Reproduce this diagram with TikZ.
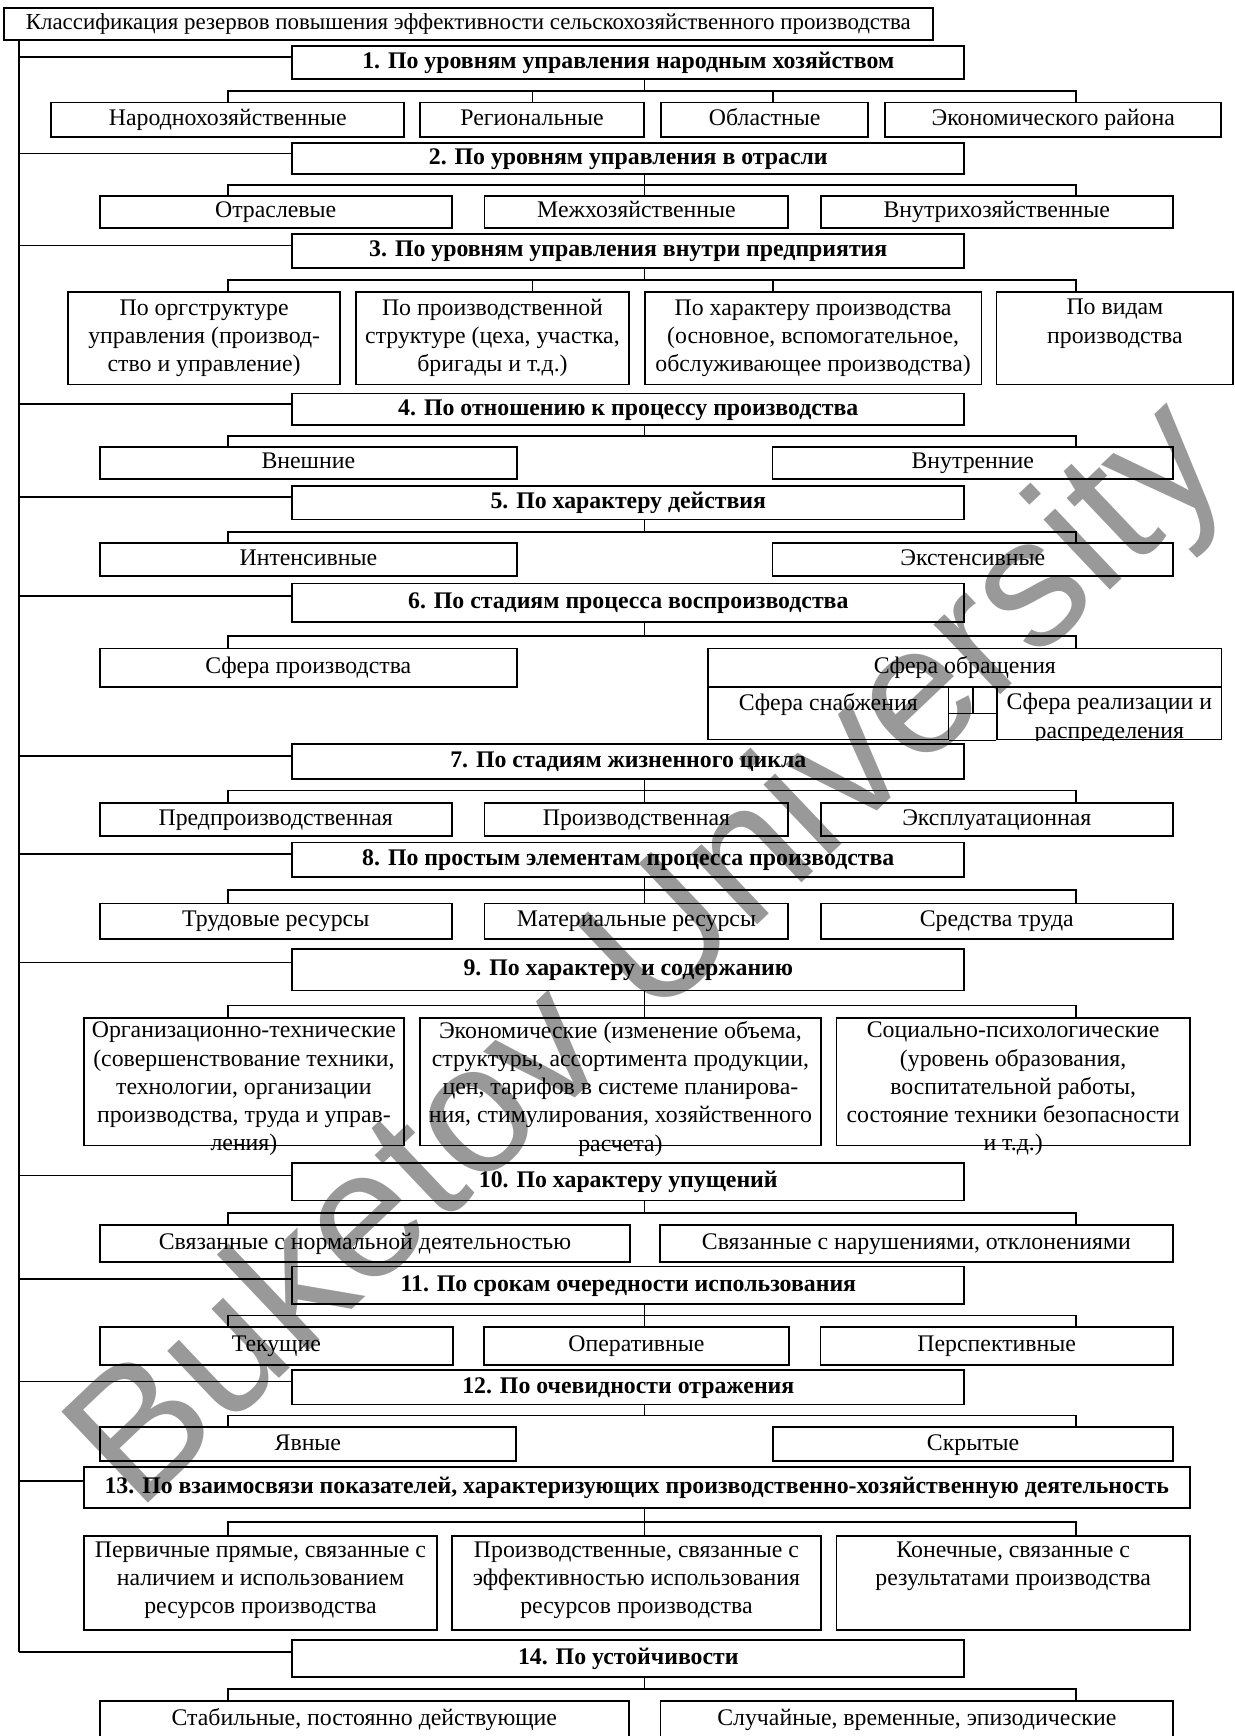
\documentclass[tikz,border=0pt]{standalone}
\usepackage{fontspec}
\setmainfont{Liberation Serif}
\newfontfamily\wmfont{Liberation Sans}
\usetikzlibrary{calc}
\newcommand\mkbox[7][]{%
  \node[box,minimum width={#5-#3},minimum height={#6-#4}] (#2) at ({(#3+#5)/2},{(#4+#6)/2}) {};
  \node[txt,#1] (#2t) at (#2.center) {#7};}
\newcommand\mkbranch[1]{%
  \coordinate (br#1) at ($(h#1.north west)!0.34!(h#1.south west)$);
  \draw[ln] (tk |- br#1) -- (br#1);}
\newcommand\mkbus[2]{%
  \coordinate (u#1) at (582,#2);
  \draw[ln] (h#1.south -| u#1) -- (u#1);
  \draw[ln] (a#1.north -| dl) -- (dl |- u#1) -- (dr |- u#1) -- (c#1.north -| dr);}
\begin{document}
\begin{tikzpicture}[x=1pt,y=-1pt,
  box/.style={draw,line width=1.6pt,inner sep=0pt},
  txt/.style={inner sep=0pt,align=center,text height=15.5pt,text depth=5pt,font=\fontsize{21.5}{25.4}\selectfont},
  ml/.style={text height={},text depth={}},
  htxt/.style={font=\fontsize{21.5}{25.4}\selectfont\bfseries},
  ttxt/.style={font=\fontsize{20.7}{24}\selectfont},
  ln/.style={line width=1.4pt},
  wm/.style={inner sep=0pt,text=black!40,font=\wmfont\fontsize{165}{165}\selectfont}]
\useasboundingbox (0,0) rectangle (1115,1568);
\node[wm,rotate=43.5] (wmark) at (590,866) {Buketov University};

\coordinate (tk) at (17,0);
\coordinate (dl) at (206,0);
\coordinate (dr) at (972,0);
\coordinate (dm1) at (481,0);
\coordinate (dm2) at (698,0);

% title
\mkbox[ttxt]{title}{3.6}{7.5}{842.4}{36}{Классификация резервов повышения эффективности сельскохозяйственного производства}

% headers
\mkbox[htxt]{h1}{264}{41.3}{871}{71.4}{1. По уровням управления народным хозяйством}
\mkbox[htxt]{h2}{264}{129.5}{871}{157.5}{2. По уровням управления в отрасли}
\mkbox[htxt]{h3}{264}{211.7}{871}{241.9}{3. По уровням управления внутри предприятия}
\mkbox[htxt]{h4}{264}{355.4}{871}{384}{4. По отношению к процессу производства}
\mkbox[htxt]{h5}{264}{438.8}{871}{469.3}{5. По характеру действия}
\mkbox[htxt]{h6}{264}{527}{871}{561.7}{6. По стадиям процесса воспроизводства}
\mkbox[htxt]{h7}{264}{672.3}{871}{703.3}{7. По стадиям жизненного цикла}
\mkbox[htxt]{h8}{264}{761}{871}{792}{8. По простым элементам процесса производства}
\mkbox[htxt]{h9}{264}{857}{871}{894.6}{9. По характеру и содержанию}
\mkbox[htxt]{h10}{264}{1050.6}{871}{1084.3}{10. По характеру упущений}
\mkbox[htxt]{h11}{264}{1144}{871}{1177.7}{11. По срокам очередности использования}
\mkbox[htxt]{h12}{264}{1237.3}{871}{1268.6}{12. По очевидности отражения}
\mkbox[htxt]{h13}{75.7}{1325.3}{1074.6}{1362.3}{13. По взаимосвязи показателей, характеризующих производственно-хозяйственную деятельность}
\mkbox[htxt]{h14}{264}{1481.3}{871}{1514.4}{14. По устойчивости}

% row 1
\mkbox{a1}{46.4}{92.5}{365}{123.5}{Народнохозяйственные}
\mkbox{b1}{379.5}{92.5}{581.6}{123.5}{Региональные}
\mkbox{m1}{597}{92.5}{784.2}{123.5}{Областные}
\mkbox{c1}{799.6}{92.5}{1103}{123.5}{Экономического района}
% row 2
\mkbox{a2}{90}{176.8}{408}{205.7}{Отраслевые}
\mkbox{b2}{437.7}{176.8}{712}{205.7}{Межхозяйственные}
\mkbox{c2}{741.3}{176.8}{1059.3}{205.7}{Внутрихозяйственные}
% row 3
\mkbox[ml]{a3}{61.5}{263.5}{307.3}{347.3}{По оргструктуре\\управления (производ-\\ство и управление)}
\mkbox[ml]{b3}{321.6}{263.5}{568}{347.3}{По производственной\\структуре (цеха, участка,\\бригады и т.д.)}
\mkbox[ml]{m3}{582.3}{263.5}{886.5}{347.3}{По характеру производства\\(основное, вспомогательное,\\обслуживающее производства)}
\mkbox[ml,yshift=13pt]{c3}{900}{263.5}{1114}{347.3}{По видам\\производства}
% row 4
\mkbox{a4}{90}{403.6}{467}{432.8}{Внешние}
\mkbox{c4}{697.7}{403.6}{1059.6}{432.8}{Внутренние}
% row 5
\mkbox{a5}{90}{490.3}{467}{520.5}{Интенсивные}
\mkbox{c5}{697.7}{490.3}{1059.6}{520.5}{Экстенсивные}
% row 6
\mkbox{a6}{90}{585.8}{467}{620.5}{Сфера производства}
\mkbox{c6}{639.7}{585.8}{1103.3}{620.5}{Сфера обращения}
\mkbox[yshift=7.5pt]{snab}{639.7}{620.5}{856.6}{668}{Сфера снабжения}
\node[box,minimum width={1103.3-900.7},minimum height={668-620.5}] (real) at ({(900.7+1103.3)/2},{(620.5+668)/2}) {};
\begin{scope}
\clip (real.north west) rectangle (real.south east);
\node[txt,ml,yshift=-4.5pt] (realt) at (real.center) {Сфера реализации и\\распределения};
\end{scope}
\draw[ln] (snab.south east) -- (real.south west);
\coordinate (cm) at ($(snab.east)!0.5!(real.west)$);
\draw[ln] (snab.east) -- (real.west);
\draw[ln] (cm |- c6.south) -- (cm);
% row 7
\mkbox{a7}{90}{725}{408}{755}{Предпроизводственная}
\mkbox{b7}{437.7}{725}{712}{755}{Производственная}
\mkbox{c7}{741.3}{725}{1059.3}{755}{Эксплуатационная}
% row 8
\mkbox{a8}{90}{816}{408}{848}{Трудовые ресурсы}
\mkbox{b8}{437.7}{816}{712}{848}{Материальные ресурсы}
\mkbox{c8}{741.3}{816}{1059.3}{848}{Средства труда}
% row 9
\mkbox[ml,yshift=-6.5pt]{a9}{75.7}{919.2}{365}{1034.6}{Организационно-технические\\(совершенствование техники,\\технологии, организации\\производства, труда и управ-\\ления)}
\mkbox[ml,yshift=-6.5pt]{b9}{379.5}{919.2}{741.3}{1034.6}{Экономические (изменение объема,\\структуры, ассортимента продукции,\\цен, тарифов в системе планирова-\\ния, стимулирования, хозяйственного\\расчета)}
\mkbox[ml,yshift=-6.5pt]{c9}{755.6}{919.2}{1074.6}{1034.6}{Социально-психологические\\(уровень образования,\\воспитательной работы,\\состояние техники безопасности\\и т.д.)}
% row 10
\mkbox{a10}{90.3}{1106.3}{568.9}{1140}{Связанные с нормальной деятельностью}
\mkbox{c10}{595.9}{1106.3}{1059.5}{1140}{Связанные с нарушениями, отклонениями}
% row 11
\mkbox{a11}{90.3}{1198.8}{408.9}{1232.8}{Текущие}
\mkbox{b11}{437.3}{1198.8}{712.5}{1232.8}{Оперативные}
\mkbox{c11}{741}{1198.8}{1059.5}{1232.8}{Перспективные}
% row 12
\mkbox{a12}{90.3}{1289.1}{465.8}{1319.8}{Явные}
\mkbox{c12}{698.3}{1289.1}{1059.5}{1319.8}{Скрытые}
% row 13
\mkbox[ml,yshift=2pt]{a13}{75.7}{1387}{394.8}{1472.2}{Первичные прямые, связанные с\\наличием и использованием\\ресурсов производства}
\mkbox[ml,yshift=2pt]{b13}{408.4}{1387}{741.3}{1472.2}{Производственные, связанные с\\эффективностью использования\\ресурсов производства}
\mkbox[ml,yshift=14.8pt]{c13}{755.6}{1387}{1074.6}{1472.2}{Конечные, связанные с\\результатами производства}
% row 14
\mkbox{a14}{90}{1536.7}{568}{1570}{Стабильные, постоянно действующие}
\mkbox{c14}{596.6}{1536.7}{1059.6}{1570}{Случайные, временные, эпизодические}

% trunk and branches
\mkbranch{1}\mkbranch{2}\mkbranch{3}\mkbranch{4}\mkbranch{5}\mkbranch{6}\mkbranch{7}
\mkbranch{8}\mkbranch{9}\mkbranch{10}\mkbranch{11}\mkbranch{12}\mkbranch{13}\mkbranch{14}
\draw[ln] (title.south -| tk) -- (tk |- br14);

% buses
\mkbus{1}{82}
\draw[ln] (b1.north -| dm1) -- (dm1 |- u1);
\draw[ln] (m1.north -| dm2) -- (dm2 |- u1);
\mkbus{2}{167}
\draw[ln] (u2) -- (b2.north -| u2);
\mkbus{3}{253}
\draw[ln] (b3.north -| dm1) -- (dm1 |- u3);
\draw[ln] (m3.north -| dm2) -- (dm2 |- u3);
\mkbus{4}{393.7}
\mkbus{5}{480.4}
\mkbus{6}{574.5}
\mkbus{7}{714}
\draw[ln] (u7) -- (b7.north -| u7);
\mkbus{8}{804}
\draw[ln] (u8) -- (b8.north -| u8);
\mkbus{9}{908}
\draw[ln] (u9) -- (b9.north -| u9);
\mkbus{10}{1095.5}
\mkbus{11}{1188.2}
\draw[ln] (u11) -- (b11.north -| u11);
\mkbus{12}{1278.6}
\mkbus{13}{1374.9}
\draw[ln] (u13) -- (b13.north -| u13);
\mkbus{14}{1525.6}
\end{tikzpicture}
\end{document}
